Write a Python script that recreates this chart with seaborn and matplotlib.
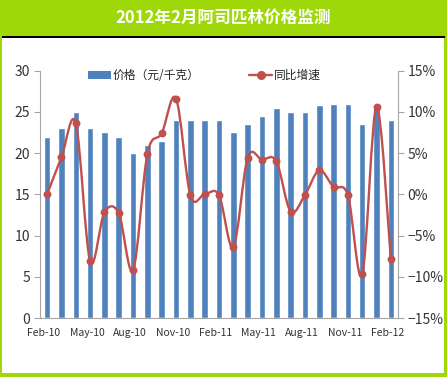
import matplotlib
matplotlib.use("Agg")
import matplotlib.pyplot as plt
import seaborn as sns
import pandas as pd
import numpy as np
from matplotlib.path import Path
from matplotlib.patches import PathPatch, Rectangle, Patch
from matplotlib.lines import Line2D
from matplotlib.transforms import ScaledTranslation

# данные
months = ["Feb-10", "Mar-10", "Apr-10", "May-10", "Jun-10", "Jul-10", "Aug-10",
          "Sep-10", "Oct-10", "Nov-10", "Dec-10", "Jan-11", "Feb-11", "Mar-11",
          "Apr-11", "May-11", "Jun-11", "Jul-11", "Aug-11", "Sep-11", "Oct-11",
          "Nov-11", "Dec-11", "Jan-12", "Feb-12"]
price = [22, 23, 25, 23, 22.5, 22, 20, 21, 21.5, 24, 24, 24, 24,
         22.5, 23.5, 24.5, 25.5, 25, 25, 25.8, 26, 26, 23.5, 26, 24]
yoy = [0.0, 4.5, 8.6, -8.1, -2.2, -2.3, -9.2, 4.9, 7.4, 11.6, -0.1, 0.0, -0.1,
       -6.4, 4.4, 4.2, 4.0, -2.1, -0.1, 2.9, 0.9, -0.1, -9.7, 10.6, -7.8]
tick_labels = ["Feb-10", "May-10", "Aug-10", "Nov-10", "Feb-11",
               "May-11", "Aug-11", "Nov-11", "Feb-12"]
title = "2012年2月阿司匹林价格监测"

bar_color = "#4F81BD"
line_color = "#C0504D"
green = "#9FD808"

sns.set_style("white")
plt.rcParams["font.family"] = ["Noto Sans CJK SC", "DejaVu Sans"]

W, H = 447, 377
fig = plt.figure(figsize=(W / 100, H / 100), dpi=100)
fig.patch.set_facecolor(green)

def px(x0, y0, x1, y1):
    # пиксели -> доли фигуры (y сверху)
    return x0 / W, 1 - y1 / H, (x1 - x0) / W, (y1 - y0) / H

l, b, w, h = px(2, 38, 444, 373)
fig.add_artist(Rectangle((l, b), w, h, transform=fig.transFigure, facecolor="white",
                         edgecolor="none", zorder=0))
l, b, w, h = px(2, 36.5, 445, 38)
fig.add_artist(Rectangle((l, b), w, h, transform=fig.transFigure, facecolor="black",
                         edgecolor="none", zorder=1))
fig.text(0.5, 1 - 18 / H, title, color="white", fontsize=12, fontweight="bold",
         ha="center", va="center")

ax = fig.add_axes(px(40, 70.5, 398, 318))
ax.set_facecolor("none")

df = pd.DataFrame({"month": months, "price": price, "yoy": yoy})
df["pos"] = np.arange(len(df))

sns.barplot(data=df, x="month", y="price", order=months, color=bar_color,
            saturation=1, width=0.46, ax=ax)
ax.set_xlim(-0.5, len(months) - 0.5)
ax.set_ylim(0, 30)
ax.set_yticks(range(0, 31, 5))
ax.set_xlabel("")
ax.set_ylabel("")

ax2 = ax.twinx()
ax2.set_ylim(-15, 15)
ax2.set_yticks(range(-15, 16, 5))
ax2.set_yticklabels([f"{v}%".replace("-", "\u2212") for v in range(-15, 16, 5)])

# сглаженная линия (кривые Безье, как в Excel)
pts = np.column_stack([df["pos"].values, df["yoy"].values]).astype(float)
n = len(pts)
verts = [pts[0]]
codes = [Path.MOVETO]
for i in range(n - 1):
    p0 = pts[max(i - 1, 0)]
    p1 = pts[i]
    p2 = pts[i + 1]
    p3 = pts[min(i + 2, n - 1)]
    c1 = p1 + (p2 - p0) / 6
    c2 = p2 - (p3 - p1) / 6
    verts += [c1, c2, p2]
    codes += [Path.CURVE4] * 3
ax2.add_patch(PathPatch(Path(verts, codes), facecolor="none", edgecolor=line_color,
                        lw=1.7, zorder=3))
sns.scatterplot(data=df, x="pos", y="yoy", color=line_color, s=32, edgecolor=line_color,
                linewidth=0, zorder=4, ax=ax2, legend=False)
ax2.set_xlim(-0.5, len(months) - 0.5)
ax2.set_ylabel("")
ax2.set_xlabel("")

# оси
spine_c = "#A6A6A6"
for a in (ax, ax2):
    for s in a.spines.values():
        s.set_visible(False)
    a.tick_params(colors=spine_c, length=4, width=0.8, labelcolor="#333333")
ax.spines["left"].set_visible(True)
ax.spines["left"].set_color(spine_c)
ax.spines["bottom"].set_visible(True)
ax.spines["bottom"].set_color(spine_c)
ax2.spines["right"].set_visible(True)
ax2.spines["right"].set_color(spine_c)
ax.tick_params(axis="y", labelsize=10, pad=3)
ax2.tick_params(axis="y", labelsize=10, pad=3)

ax.set_xticks(np.arange(0, len(months), 3) - 0.5)
ax.set_xticklabels(tick_labels)
ax.tick_params(axis="x", labelsize=7.5, pad=3)
for lab in ax.get_xticklabels():
    lab.set_transform(lab.get_transform() + ScaledTranslation(4 / 100, 0, fig.dpi_scale_trans))

handles = [Patch(facecolor=bar_color, edgecolor="none"),
           Line2D([0], [0], color=line_color, lw=1.7, marker="o", markersize=5.5)]
ax2.legend(handles, ["价格（元/千克）", "同比增速"], loc="center",
           bbox_to_anchor=(0.46, 0.98), ncol=2, frameon=False, fontsize=8.5,
           handlelength=1.9, handleheight=0.7, columnspacing=4.2, handletextpad=0.2)

fig.savefig("out.png", dpi=100, facecolor=fig.get_facecolor())
